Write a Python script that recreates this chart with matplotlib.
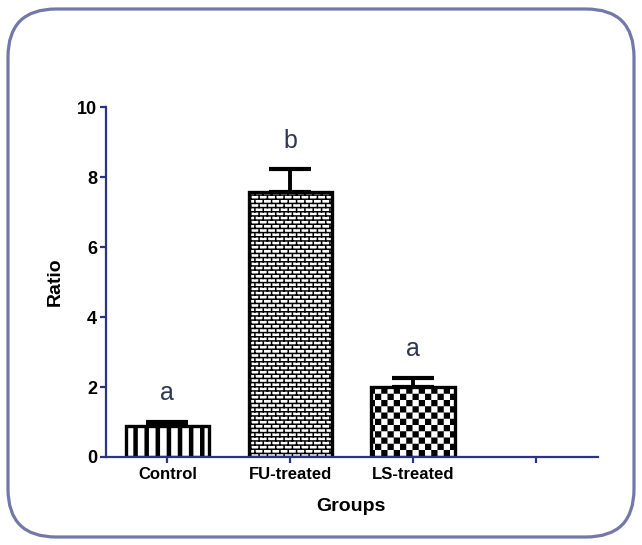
import numpy as np
import matplotlib
matplotlib.use('Agg')
import matplotlib.pyplot as plt
import matplotlib.hatch as mhatch
from matplotlib.path import Path
from matplotlib.patches import FancyBboxPatch
from matplotlib.transforms import IdentityTransform

# data
groups = ['Control', 'FU-treated', 'LS-treated']
ratio = [0.89, 7.56, 2.00]
ratio_err = [0.11, 0.66, 0.26]
letters = ['a', 'b', 'a']
yticks = [0, 2, 4, 6, 8, 10]

plt.rcParams['font.family'] = ['Liberation Sans', 'DejaVu Sans']
plt.rcParams['hatch.linewidth'] = 0.01

axis_col = '#2b3388'


# fill patterns built from small filled rectangles in the unit hatch tile
class Tiles(mhatch.HatchPatternBase):
    key = ''

    def __init__(self, hatch, density):
        self.rects = self.tiles() if self.key in hatch else []
        self.num_vertices = len(self.rects) * 5

    def set_vertices_and_codes(self, vertices, codes):
        for k, (x0, y0, w, h) in enumerate(self.rects):
            vertices[5 * k:5 * k + 5] = [(x0, y0), (x0 + w, y0), (x0 + w, y0 + h),
                                         (x0, y0 + h), (x0, y0)]
            codes[5 * k:5 * k + 5] = [Path.MOVETO, Path.LINETO, Path.LINETO,
                                      Path.LINETO, Path.CLOSEPOLY]


class Stripes(Tiles):
    key = '|'

    def tiles(self):
        return [(i / 9, 0, 0.045, 1) for i in range(9)]


class Bricks(Tiles):
    key = '-'

    def tiles(self):
        rows, cols, t = 24, 12, 0.015
        out = []
        for r in range(rows):
            out.append((0, r / rows, 1, t))
            for c in range(cols):
                out.append((c / cols + (r % 2) / (2 * cols), r / rows, t, 1 / rows))
        return out


class Checker(Tiles):
    key = '+'

    def tiles(self):
        n = 16
        return [(i / n, j / n, 1 / n, 1 / n)
                for i in range(n) for j in range(n) if (i + j) % 2 == 0]


mhatch._hatch_types[:] = [Stripes, Bricks, Checker]

fig = plt.figure(figsize=(6.42, 5.45), dpi=100)
ax = fig.add_axes([0.165, 0.1615, 0.766, 0.642])

x = np.arange(len(groups))
ax.errorbar(x, ratio, yerr=[np.zeros(len(ratio)), ratio_err], fmt='none',
            ecolor='black', elinewidth=2.8, capsize=15, capthick=3, zorder=1)
bars = ax.bar(x, ratio, width=0.68, color='white', edgecolor='black',
              linewidth=2.4, zorder=2)
for b, h in zip(bars, ['|', '-', '+']):
    b.set_hatch(h)

for xi, v, e, s in zip(x, ratio, ratio_err, letters):
    ax.text(xi, v + e + 0.62, s, ha='center', va='baseline', fontsize=18,
            color='#2e3650')

ax.set_xlim(-0.5, 3.5)
ax.set_ylim(0, 10)
ax.set_yticks(yticks)
ax.set_xticks(range(len(groups) + 1))
ax.set_xticklabels(groups + [''])

for side in ['top', 'right']:
    ax.spines[side].set_visible(False)
for side in ['left', 'bottom']:
    ax.spines[side].set_color(axis_col)
    ax.spines[side].set_linewidth(1.6)
ax.tick_params(axis='both', colors=axis_col, width=1.6, length=4.5,
               labelcolor='black')
ax.tick_params(axis='y', labelsize=13, pad=2)
ax.tick_params(axis='x', labelsize=12, pad=3)
for lab in ax.get_xticklabels() + ax.get_yticklabels():
    lab.set_fontweight('bold')

ax.set_ylabel('Ratio', fontsize=14, fontweight='bold')
ax.set_xlabel('Groups', fontsize=14, fontweight='bold')
ax.yaxis.set_label_coords(-0.086, 0.5)
ax.xaxis.set_label_coords(0.499, -0.117)

# rounded frame around the figure
frame = FancyBboxPatch((8, 8), 626, 528, boxstyle='round,pad=0,rounding_size=48',
                       transform=IdentityTransform(), facecolor='none',
                       edgecolor='#7478a8', linewidth=2.3)
fig.patches.append(frame)

fig.savefig('out.png', dpi=100)
